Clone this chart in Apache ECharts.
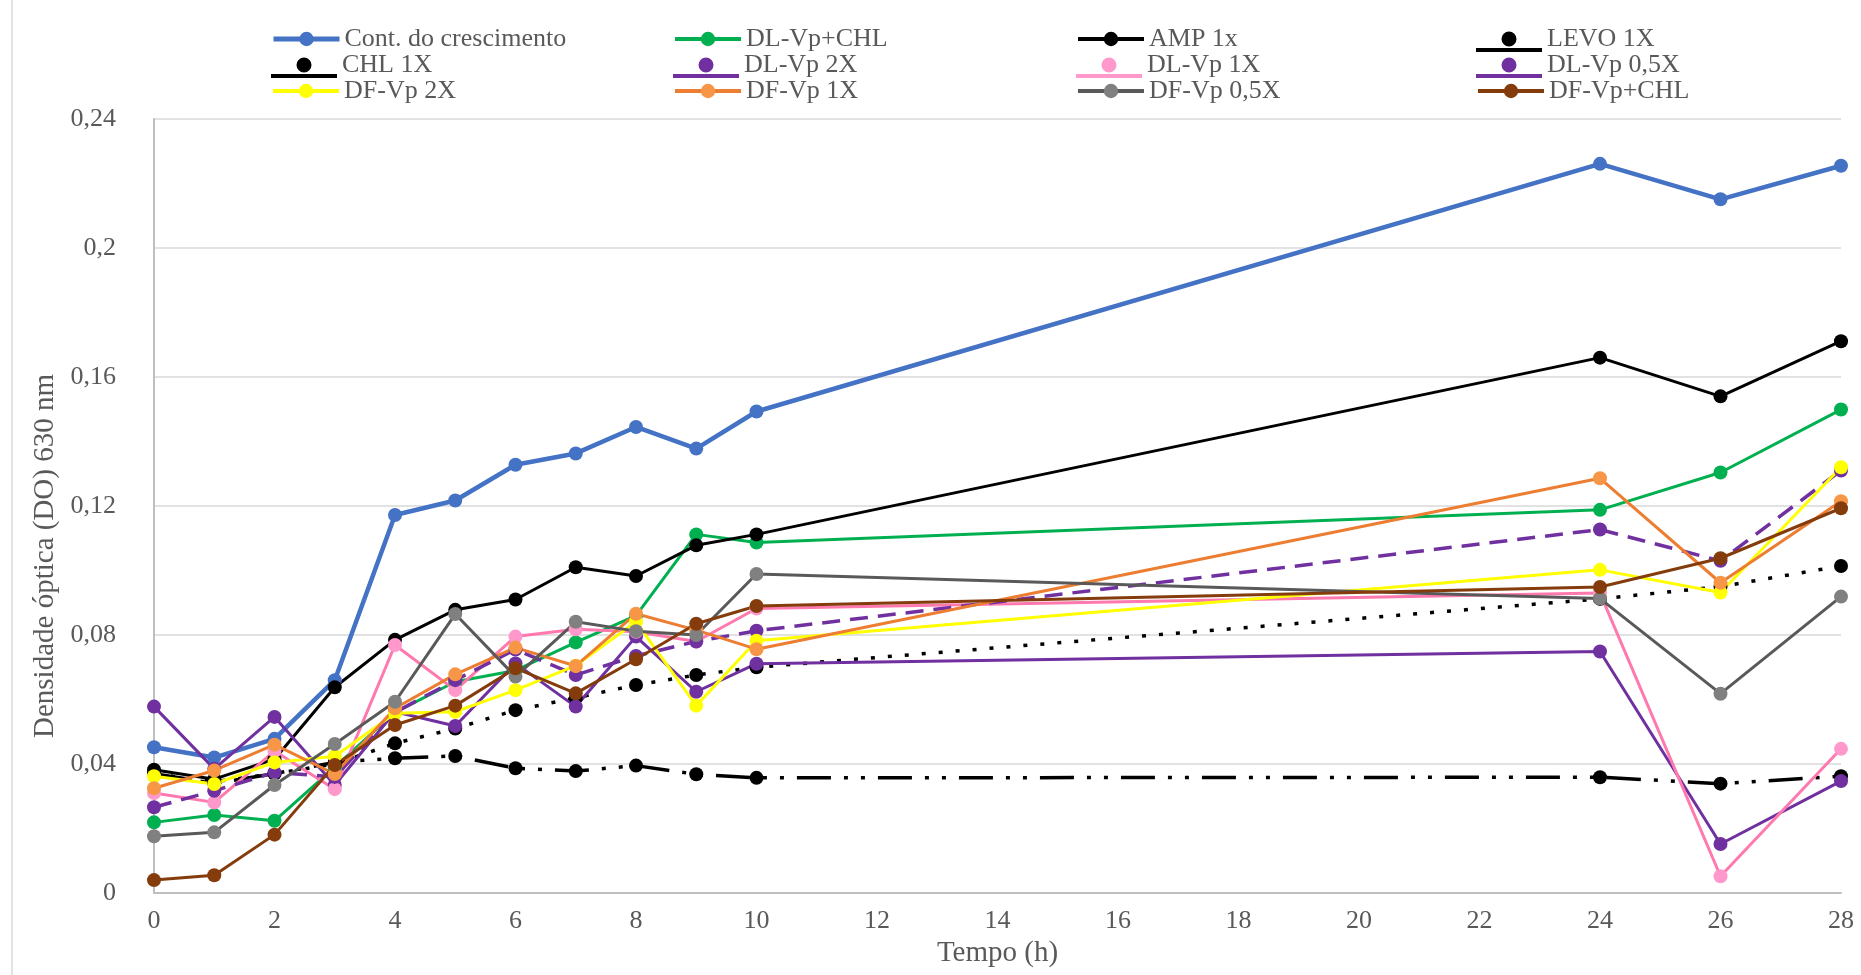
<!DOCTYPE html>
<html>
<head>
<meta charset="utf-8">
<script src="https://cdn.jsdelivr.net/npm/echarts@6/dist/echarts.min.js"></script>
<style>
  html, body { margin: 0; padding: 0; background: #ffffff; }
  #chart { width: 1861px; height: 975px; }
</style>
</head>
<body>
<div id="chart"></div>
<script>
// Sampling times (h)
const hours = [0, 1, 2, 3, 4, 5, 6, 7, 8, 9, 10, 24, 26, 28];

// Optical density at 630 nm for each treatment
const contCrescimento = [0.0452, 0.0420, 0.0478, 0.0660, 0.1172, 0.1217, 0.1328, 0.1363, 0.1445, 0.1378, 0.1493, 0.2261, 0.2151, 0.2255];
const dlVpChl        = [0.0219, 0.0242, 0.0224, 0.0390, 0.0560, 0.0655, 0.0690, 0.0777, 0.0860, 0.1112, 0.1087, 0.1188, 0.1304, 0.1499];
const amp1x          = [0.0382, 0.0353, 0.0415, 0.0638, 0.0785, 0.0878, 0.0910, 0.1010, 0.0983, 0.1078, 0.1112, 0.1660, 0.1540, 0.1711];
const levo1x         = [0.0370, 0.0340, 0.0370, 0.0405, 0.0418, 0.0425, 0.0387, 0.0378, 0.0395, 0.0368, 0.0357, 0.0359, 0.0339, 0.0362];
const chl1x          = [0.0370, 0.0345, 0.0370, 0.0400, 0.0464, 0.0510, 0.0567, 0.0605, 0.0645, 0.0676, 0.0700, 0.0912, 0.0950, 0.1014];
const dlVp2x         = [0.0578, 0.0385, 0.0546, 0.0335, 0.0562, 0.0518, 0.0712, 0.0578, 0.0795, 0.0624, 0.0711, 0.0749, 0.0152, 0.0347];
const dlVp1x         = [0.0310, 0.0281, 0.0440, 0.0322, 0.0769, 0.0629, 0.0795, 0.0818, 0.0810, 0.0780, 0.0882, 0.0930, 0.0052, 0.0447];
const dlVp05x        = [0.0266, 0.0317, 0.0374, 0.0360, 0.0560, 0.0660, 0.0755, 0.0676, 0.0735, 0.0780, 0.0813, 0.1127, 0.1030, 0.1310];
const dfVp2x         = [0.0362, 0.0338, 0.0405, 0.0424, 0.0557, 0.0562, 0.0629, 0.0705, 0.0841, 0.0581, 0.0782, 0.1002, 0.0932, 0.1320];
const dfVp1x         = [0.0325, 0.0380, 0.0460, 0.0369, 0.0573, 0.0678, 0.0761, 0.0704, 0.0866, 0.0815, 0.0756, 0.1286, 0.0962, 0.1215];
const dfVp05x        = [0.0176, 0.0188, 0.0335, 0.0462, 0.0593, 0.0865, 0.0671, 0.0841, 0.0812, 0.0800, 0.0989, 0.0913, 0.0618, 0.0919];
const dfVpChl        = [0.0040, 0.0055, 0.0181, 0.0397, 0.0521, 0.0581, 0.0697, 0.0619, 0.0725, 0.0835, 0.0890, 0.0949, 0.1038, 0.1193];

// Axis tick labels
const xTickLabels = ['0', '2', '4', '6', '8', '10', '12', '14', '16', '18', '20', '22', '24', '26', '28'];
const yTickLabels = ['0', '0,04', '0,08', '0,12', '0,16', '0,2', '0,24'];

const FONT = "'Liberation Serif', 'Times New Roman', serif";
const TEXT_COLOR = '#595959';

// Legend icon for series drawn as a marker sitting above a bar
const markerOverBar = 'path://M0 0L0.01 0L0.01 0.01Z M0 22L66 22L66 26L0 26Z M25.5 13A7.5 7.5 0 1 0 40.5 13A7.5 7.5 0 1 0 25.5 13Z';

// Series definitions: name, values, line colour, marker colour, width, dash, legend icon
const seriesDefs = [
  { name: 'Cont. do crescimento', values: contCrescimento, line: '#4472C4', mark: '#4472C4', width: 4.5, dash: 'solid', icon: null },
  { name: 'DL-Vp+CHL', values: dlVpChl, line: '#00B050', mark: '#00B050', width: 3, dash: 'solid', icon: null },
  { name: 'AMP 1x', values: amp1x, line: '#000000', mark: '#000000', width: 3, dash: 'solid', icon: null },
  { name: 'LEVO 1X', values: levo1x, line: '#000000', mark: '#000000', width: 3.5, dash: [34, 13, 4, 13, 4, 13], icon: markerOverBar },
  { name: 'CHL 1X', values: chl1x, line: '#000000', mark: '#000000', width: 3.5, dash: [4, 13], icon: markerOverBar },
  { name: 'DL-Vp 2X', values: dlVp2x, line: '#7030A0', mark: '#7030A0', width: 3, dash: 'solid', icon: markerOverBar },
  { name: 'DL-Vp 1X', values: dlVp1x, line: '#FF78AE', mark: '#FF99CC', width: 3, dash: 'solid', icon: markerOverBar },
  { name: 'DL-Vp 0,5X', values: dlVp05x, line: '#7030A0', mark: '#7030A0', width: 3.5, dash: [18, 10], icon: markerOverBar },
  { name: 'DF-Vp 2X', values: dfVp2x, line: '#FFFF00', mark: '#FFFF00', width: 3, dash: 'solid', icon: null },
  { name: 'DF-Vp 1X', values: dfVp1x, line: '#ED7D31', mark: '#F79646', width: 3, dash: 'solid', icon: null },
  { name: 'DF-Vp 0,5X', values: dfVp05x, line: '#595959', mark: '#808080', width: 3, dash: 'solid', icon: null },
  { name: 'DF-Vp+CHL', values: dfVpChl, line: '#843C0C', mark: '#843C0C', width: 3, dash: 'solid', icon: null }
];

const series = seriesDefs.map(function (d) {
  return {
    type: 'line',
    name: d.name,
    data: hours.map(function (h, i) { return [h, d.values[i]]; }),
    symbol: 'circle',
    symbolSize: 14,
    showAllSymbol: true,
    lineStyle: { color: d.line, width: d.width, type: d.dash, cap: 'butt', join: 'round' },
    itemStyle: { color: d.mark, borderWidth: 0 },
    emphasis: { disabled: true },
    animation: false
  };
});

// Legend laid out in four columns and three rows
const legendColumnLeft = [271, 673, 1076, 1476];
const legendRowCenter = [39, 65, 91];
const legends = seriesDefs.map(function (d, i) {
  const col = i % 4, row = Math.floor(i / 4);
  const item = { name: d.name };
  if (d.icon) { item.icon = d.icon; }
  return {
    left: legendColumnLeft[col],
    top: legendRowCenter[row] - 13,
    orient: 'horizontal',
    padding: 0,
    itemGap: 0,
    itemWidth: 66,
    itemHeight: d.icon ? 26 : 18,
    symbolKeepAspect: false,
    selectedMode: false,
    data: [item],
    lineStyle: { width: d.name === 'Cont. do crescimento' ? 5 : 4 },
    textStyle: { fontFamily: FONT, fontSize: 26, lineHeight: 26, color: TEXT_COLOR }
  };
});

const chart = echarts.init(document.getElementById('chart'), null, { renderer: 'canvas' });
chart.setOption({
  backgroundColor: '#ffffff',
  animation: false,
  legend: legends,
  grid: { left: 154, right: 20, top: 119, bottom: 82, containLabel: false },
  xAxis: {
    type: 'value',
    min: 0,
    max: 28,
    interval: 2,
    name: 'Tempo (h)',
    nameLocation: 'middle',
    nameGap: 46,
    nameTextStyle: { fontFamily: FONT, fontSize: 29, color: TEXT_COLOR },
    axisLine: { show: true, onZero: false, lineStyle: { color: '#BFBFBF', width: 2 } },
    axisTick: { show: false },
    splitLine: { show: false },
    axisLabel: {
      margin: 15,
      fontFamily: FONT,
      fontSize: 26,
      color: TEXT_COLOR,
      formatter: function (v) { return xTickLabels[Math.round(v / 2)]; }
    }
  },
  yAxis: {
    type: 'value',
    min: 0,
    max: 0.24,
    interval: 0.04,
    name: 'Densidade óptica (DO) 630 nm',
    nameLocation: 'middle',
    nameRotate: 90,
    nameGap: 86,
    nameTextStyle: { fontFamily: FONT, fontSize: 29, color: TEXT_COLOR, padding: [0, 100, 0, 0] },
    axisLine: { show: true, lineStyle: { color: '#BFBFBF', width: 2 } },
    axisTick: { show: false },
    splitLine: { show: true, lineStyle: { color: '#D9D9D9', width: 1.5 } },
    axisLabel: {
      margin: 38,
      fontFamily: FONT,
      fontSize: 26,
      color: TEXT_COLOR,
      formatter: function (v) { return yTickLabels[Math.round(v / 0.04)]; }
    }
  },
  graphic: [{
    type: 'line',
    shape: { x1: 12, y1: 0, x2: 12, y2: 975 },
    style: { stroke: '#D9D9D9', lineWidth: 1.5 },
    silent: true
  }],
  series: series
});
</script>
</body>
</html>
